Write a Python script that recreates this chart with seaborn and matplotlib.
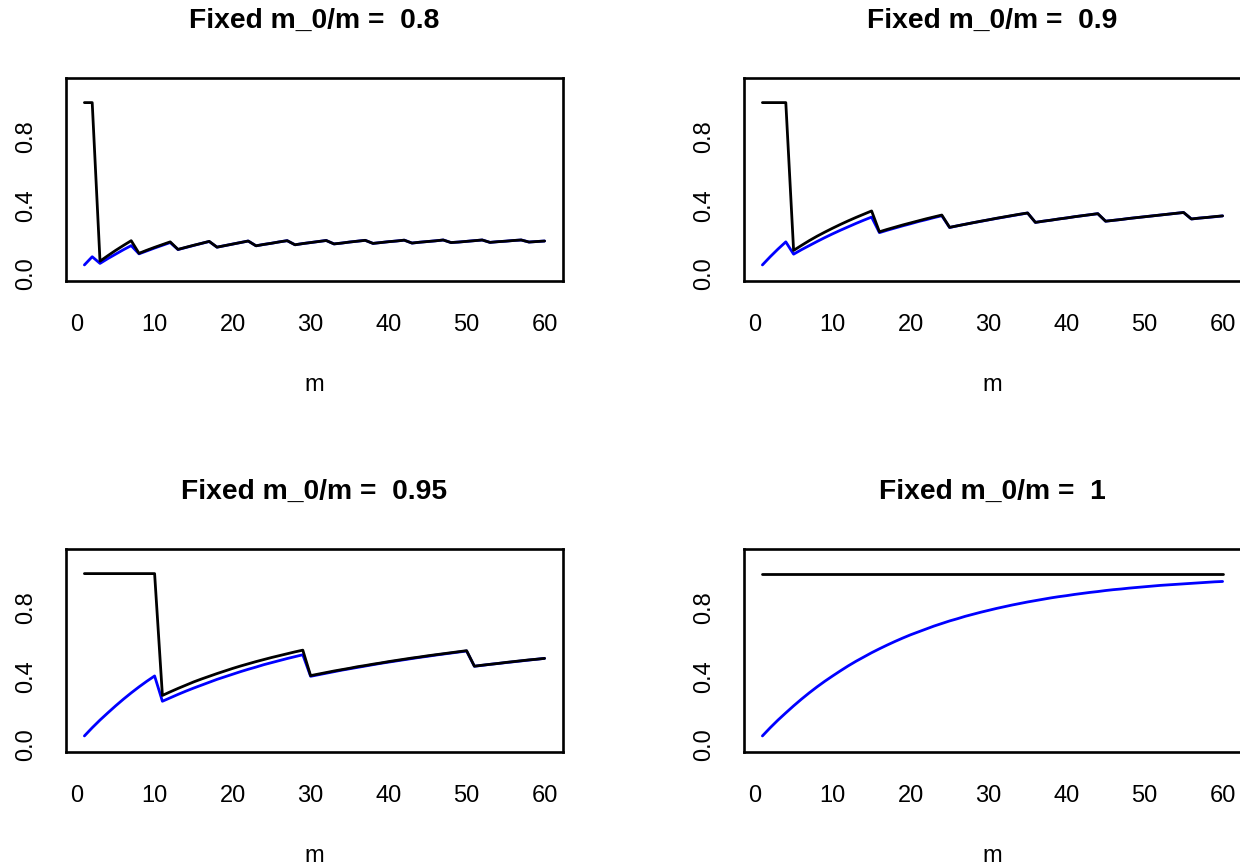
import numpy as np
import pandas as pd
import matplotlib
matplotlib.use("Agg")
import matplotlib.pyplot as plt
import seaborn as sns

# number of hypotheses m = 1..60
m_values = list(range(1, 61))
panel_ratios = ["0.8", "0.9", "0.95", "1"]

# blue curves (FDR) and black curves (pFDR), x1000
fdr_08 = [50, 98, 59, 87, 113, 139, 163, 115, 132, 149, 165, 181, 140, 152, 164, 176, 187, 154, 163, 172,
          181, 190, 162, 170, 177, 185, 192, 168, 175, 181, 187, 193, 173, 178, 184, 189, 194, 176, 181, 186,
          190, 195, 178, 183, 187, 191, 196, 181, 184, 188, 192, 196, 182, 186, 189, 193, 196, 184, 187, 190]
pfdr_08 = [1000, 1000, 72, 104, 135, 164, 192, 118, 136, 153, 169, 185, 141, 153, 165, 176, 188, 154, 163, 172,
           181, 190, 162, 170, 177, 185, 192, 168, 175, 181, 187, 193, 173, 178, 184, 189, 194, 176, 181, 186,
           190, 195, 178, 183, 187, 191, 196, 181, 184, 188, 192, 196, 182, 186, 189, 193, 196, 184, 187, 190]
fdr_09 = [50, 98, 143, 185, 113, 139, 163, 187, 210, 232, 253, 273, 293, 312, 330, 239, 253, 266, 279, 291,
          304, 315, 327, 338, 269, 279, 288, 297, 305, 314, 322, 330, 338, 346, 354, 299, 306, 312, 319, 325,
          332, 338, 344, 350, 306, 311, 316, 322, 327, 332, 337, 342, 347, 352, 357, 319, 324, 328, 332, 337]
pfdr_09 = [1000, 1000, 1000, 1000, 135, 164, 192, 218, 242, 265, 287, 308, 328, 347, 366, 244, 258, 271, 284, 296,
           308, 320, 331, 342, 270, 279, 288, 297, 306, 314, 323, 331, 339, 347, 354, 299, 306, 312, 319, 325,
           332, 338, 344, 350, 306, 311, 316, 322, 327, 332, 337, 342, 347, 352, 357, 319, 324, 328, 333, 337]
fdr_095 = [50, 98, 143, 185, 226, 265, 302, 337, 370, 401, 253, 273, 293, 312, 330, 347, 364, 381, 396, 411,
           426, 440, 453, 467, 479, 491, 503, 514, 525, 399, 408, 417, 426, 435, 443, 451, 459, 467, 475, 482,
           489, 496, 503, 510, 516, 523, 529, 535, 541, 547, 458, 463, 469, 474, 479, 484, 489, 494, 499, 504]
pfdr_095 = [1000, 1000, 1000, 1000, 1000, 1000, 1000, 1000, 1000, 1000, 287, 308, 328, 347, 366, 383, 399, 415, 430, 445,
            459, 472, 485, 497, 509, 520, 531, 542, 552, 403, 412, 421, 430, 438, 446, 455, 462, 470, 477, 485,
            492, 499, 506, 512, 519, 525, 531, 537, 543, 549, 458, 464, 469, 474, 480, 485, 490, 495, 499, 504]
fdr_1 = [50, 98, 143, 185, 226, 265, 302, 337, 370, 401, 431, 460, 487, 512, 537, 560, 582, 603, 623, 642,
         659, 676, 693, 708, 723, 736, 750, 762, 774, 785, 796, 806, 816, 825, 834, 842, 850, 858, 865, 871,
         878, 884, 890, 895, 901, 906, 910, 915, 919, 923, 927, 931, 934, 937, 940, 943, 946, 949, 952, 954]
pfdr_1 = [1000] * 60

x_ticks = [0, 10, 20, 30, 40, 50, 60]
y_ticks = [0.0, 0.2, 0.4, 0.6, 0.8, 1.0]
y_tick_labels = ["0.0", "", "0.4", "", "0.8", ""]

blue_series = [fdr_08, fdr_09, fdr_095, fdr_1]
black_series = [pfdr_08, pfdr_09, pfdr_095, pfdr_1]

sns.set_theme(style="white")
plt.rcParams['font.family'] = ['Liberation Sans', 'DejaVu Sans']
for k in ['text.color', 'axes.labelcolor', 'xtick.color', 'ytick.color', 'axes.edgecolor']:
    plt.rcParams[k] = 'black'

fig = plt.figure(figsize=(12.4, 8.67), dpi=100)
W, H = 1240, 867
boxes = [(66, 78), (744, 78), (66, 549), (744, 549)]

for (x0, y0), ratio, blue, black in zip(boxes, panel_ratios, blue_series, black_series):
    ax = fig.add_axes([x0 / W, 1 - (y0 + 203) / H, 497 / W, 203 / H])
    df = pd.DataFrame({"m": m_values,
                       "fdr": np.array(blue) / 1000.0,
                       "pfdr": np.array(black) / 1000.0})
    sns.lineplot(data=df, x="m", y="fdr", color='#0000ff', lw=2.0, ax=ax)
    sns.lineplot(data=df, x="m", y="pfdr", color='black', lw=2.0, ax=ax)
    ax.set_xlim(-1.36, 62.36)
    ax.set_ylim(-0.044, 1.144)
    ax.set_xticks(x_ticks)
    ax.set_yticks(y_ticks)
    ax.set_yticklabels(y_tick_labels)
    ax.set_xlabel("")
    ax.set_ylabel("")
    ax.tick_params(axis='both', length=10.5, width=0.8, color='black', labelsize=17, direction='out')
    ax.tick_params(axis='x', pad=13)
    ax.tick_params(axis='y', pad=10, labelrotation=90)
    for lb in ax.get_yticklabels():
        lb.set_va('center')
    for sp in ax.spines.values():
        sp.set_linewidth(1.9)
        sp.set_color('black')
    ax.set_title(f"Fixed m_0/m =  {ratio}", fontsize=20.3, fontweight='bold', pad=36)
    ax.text(0.5, -110 / 203, 'm', transform=ax.transAxes, ha='center', va='baseline', fontsize=17)

fig.savefig('out.png', dpi=100)
